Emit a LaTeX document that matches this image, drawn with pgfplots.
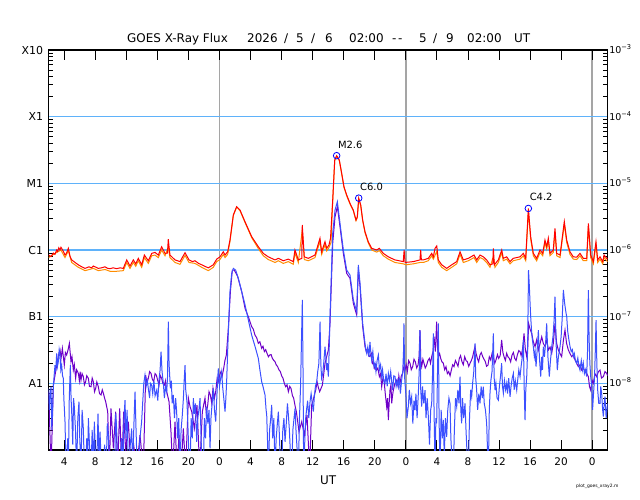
\documentclass[border=0pt]{standalone}
\usepackage{fontspec}
\setmainfont{DejaVu Sans}
\usepackage{pgfplots}
\pgfplotsset{compat=1.18}
\definecolor{gridblue}{RGB}{95,178,250}
\definecolor{goesred}{RGB}{255,0,0}
\definecolor{goesorange}{RGB}{255,140,0}
\definecolor{goesblue}{RGB}{60,80,255}
\definecolor{goespurple}{RGB}{110,0,200}
\definecolor{daygray}{RGB}{165,165,165}
\begin{document}
\begin{tikzpicture}
\useasboundingbox (0,0) rectangle (640bp,500bp);
% ---- axis B: grids, minor ticks, left labels
\begin{axis}[
  ymode=log,
  at={(48.7bp,50bp)}, anchor=south west,
  scale only axis, width=559bp, height=400bp,
  xmin=2, xmax=74, ymin=1e-9, ymax=1e-3,
  axis line style={line width=1.2bp},
  tick style={black, line width=0.8bp},
  xtick={24,48,72}, xticklabels={,,}, major tick length=0pt,
  xmajorgrids, major x grid style={draw=daygray, line width=1.5bp},
  ytick={1e-9,1e-8,1e-7,1e-6,1e-5,1e-4,1e-3},
  yticklabels={,A1,B1,C1,M1,X1,X10},
  ymajorgrids, major y grid style={draw=gridblue, line width=1.1bp},
  minor ytick={2e-9,3e-9,4e-9,5e-9,6e-9,7e-9,8e-9,9e-9,
               2e-8,3e-8,4e-8,5e-8,6e-8,7e-8,8e-8,9e-8,
               2e-7,3e-7,4e-7,5e-7,6e-7,7e-7,8e-7,9e-7,
               2e-6,3e-6,4e-6,5e-6,6e-6,7e-6,8e-6,9e-6,
               2e-5,3e-5,4e-5,5e-5,6e-5,7e-5,8e-5,9e-5,
               2e-4,3e-4,4e-4,5e-4,6e-4,7e-4,8e-4,9e-4},
  minor tick length=4.5bp,
  yticklabel style={anchor=base east, inner sep=0pt, xshift=-5.5bp, yshift=-4bp,
    font=\fontsize{11}{13}\selectfont},
]
\end{axis}
% ---- axis C: right labels
\begin{axis}[
  ymode=log,
  at={(48.7bp,50bp)}, anchor=south west,
  scale only axis, width=559bp, height=400bp,
  xmin=2, xmax=74, ymin=1e-9, ymax=1e-3,
  axis line style={line width=1.2bp},
  tick style={black, line width=0.8bp},
  xtick=\empty,
  ytick={1e-8,1e-7,1e-6,1e-5,1e-4,1e-3},
  yticklabels={10\textsuperscript{−8},10\textsuperscript{−7},10\textsuperscript{−6},10\textsuperscript{−5},10\textsuperscript{−4},10\textsuperscript{−3}},
  yticklabel pos=right,
  major tick length=0pt, minor tick length=0pt,
  yticklabel style={anchor=base west, inner sep=0pt, xshift=1.5bp, yshift=-3.4bp,
    font=\fontsize{9.5}{11}\selectfont},
]
\end{axis}
% ---- axis A: data
\begin{axis}[
  ymode=log,
  at={(48.7bp,50bp)}, anchor=south west,
  scale only axis, width=559bp, height=400bp,
  xmin=2, xmax=74, ymin=1e-9, ymax=1e-3,
  axis line style={line width=1.2bp},
  tick style={black, line width=0.8bp},
  ytick=\empty,
  xtick={4,8,...,72},
  xticklabels={4,8,12,16,20,0,4,8,12,16,20,0,4,8,12,16,20,0},
  major tick length=10bp,
  xticklabel style={anchor=base, inner sep=0pt, yshift=-15.7bp,
    font=\fontsize{10.5}{12}\selectfont},
  xlabel={UT},
  xlabel style={at={(axis description cs:0.5,0)}, anchor=base, inner sep=0pt,
    yshift=-34.5bp, font=\fontsize{12}{14}\selectfont},
  every axis plot/.append style={line width=1bp},
]
% secondary long channel (orange)
\addplot[goesorange] coordinates {
(2.0,7.7e-7) (3.03,9.2e-7) (3.58,1.0e-6) (4.10,7.7e-7) (4.53,9.7e-7) (4.96,6.5e-7)
(5.81,5.5e-7) (6.68,4.9e-7) (7.75,5.3e-7) (8.39,4.9e-7) (9.25,5.1e-7) (9.90,4.8e-7)
(10.76,4.8e-7) (11.61,4.9e-7) (12.05,6.5e-7) (12.47,5.3e-7) (12.90,6.5e-7) (13.21,5.7e-7)
(13.54,6.9e-7) (13.98,5.5e-7) (14.32,7.7e-7) (14.83,6.3e-7) (15.27,8.2e-7) (15.69,8.4e-7)
(16.12,7.7e-7) (16.55,1.0e-6) (16.98,8.2e-7) (17.40,1.1e-6) (17.62,7.7e-7) (18.27,6.5e-7)
(18.91,6.1e-7) (19.56,8.3e-7) (20.07,6.5e-7) (20.84,6.3e-7) (21.71,5.5e-7) (22.56,4.9e-7)
(23.20,5.5e-7) (23.64,6.7e-7) (24.06,7.2e-7) (24.49,8.6e-7) (24.71,7.7e-7) (25.05,8.6e-7)
(25.35,1.35e-6) (25.78,3.3e-6) (26.21,4.4e-6) (26.64,3.9e-6) (27.28,2.6e-6) (28.15,1.53e-6)
(29.00,1.05e-6) (29.64,8.2e-7) (30.28,7.2e-7) (31.15,6.5e-7) (31.57,6.9e-7) (32.22,6.3e-7)
(32.86,6.7e-7) (33.50,6.1e-7) (33.72,9.0e-7) (34.15,6.5e-7) (34.66,2.0e-6) (34.92,7.2e-7)
(35.44,6.9e-7) (36.30,7.7e-7) (36.94,1.35e-6) (37.16,8.6e-7) (37.59,1.2e-6) (37.81,9.7e-7)
(38.10,1.09e-6) (38.36,1.3e-6) (38.58,5.4e-6) (38.84,2.2e-5) (39.09,2.55e-5) (39.43,2.2e-5)
(39.74,1.38e-5) (40.03,8.7e-6) (40.38,6.5e-6) (40.81,4.9e-6) (41.23,3.9e-6) (41.58,2.75e-6)
(41.75,3.05e-6) (41.93,5.8e-6) (42.19,4.6e-6) (42.44,2.75e-6) (42.74,1.82e-6) (43.16,1.28e-6)
(43.60,1.0e-6) (44.25,9.3e-7) (44.58,9.8e-7) (45.10,8.2e-7) (45.74,7.3e-7) (46.60,6.5e-7)
(47.67,6.2e-7) (48.02,6.0e-7) (48.96,6.2e-7) (49.82,6.5e-7) (50.25,6.5e-7) (50.89,6.9e-7)
(51.33,8.2e-7) (51.54,7.3e-7) (51.98,9.5e-7) (52.18,6.5e-7) (52.62,5.5e-7) (53.26,4.9e-7)
(53.91,5.5e-7) (54.55,6.2e-7) (54.98,8.6e-7) (55.40,6.5e-7) (56.05,6.9e-7) (56.78,7.7e-7)
(57.13,6.5e-7) (57.55,7.7e-7) (57.98,7.3e-7) (58.41,6.5e-7) (58.84,5.5e-7) (59.27,8.0e-7)
(59.48,5.5e-7) (59.91,6.5e-7) (60.35,9.2e-7) (60.55,6.9e-7) (60.99,7.3e-7) (61.42,6.2e-7)
(61.84,6.9e-7) (62.70,7.3e-7) (63.13,8.2e-7) (63.44,6.9e-7) (63.78,3.8e-6) (64.08,1.45e-6)
(64.42,8.2e-7) (64.85,6.9e-7) (65.28,9.2e-7) (65.63,8.2e-7) (65.92,1.3e-6) (66.14,1.03e-6)
(66.35,1.38e-6) (66.57,8.2e-7) (66.99,9.2e-7) (67.21,1.9e-6) (67.43,8.2e-7) (67.86,7.7e-7)
(68.41,2.45e-6) (68.72,1.3e-6) (69.14,8.6e-7) (69.57,7.3e-7) (70.01,7.2e-7) (70.43,8.2e-7)
(70.86,6.9e-7) (71.30,6.9e-7) (71.51,2.3e-6) (71.81,7.7e-7) (72.15,6.2e-7) (72.49,1.2e-6)
(72.71,6.5e-7) (73.01,7.3e-7) (73.36,6.2e-7) (73.53,7.7e-7) (73.87,6.9e-7) (74.0,6.7e-7)
};
% primary long channel (red)
\addplot[goesred] coordinates {
(2.0,8.4e-7) (2.3,8.0e-7) (2.6,9.0e-7) (2.8,8.6e-7) (3.03,1.0e-6) (3.15,9.5e-7) (3.3,1.08e-6)
(3.45,1.0e-6) (3.58,1.10e-6) (3.8,1.0e-6) (3.95,9.2e-7)
(4.10,8.4e-7) (4.3,9.0e-7) (4.53,1.06e-6) (4.75,8.0e-7) (4.96,7.1e-7) (5.4,6.5e-7) (5.81,6.0e-7)
(6.25,5.6e-7) (6.68,5.3e-7) (7.2,5.6e-7) (7.5,5.4e-7)
(7.75,5.75e-7) (8.1,5.5e-7) (8.39,5.3e-7) (8.8,5.4e-7) (9.25,5.6e-7) (9.6,5.3e-7) (9.90,5.25e-7)
(10.3,5.4e-7) (10.76,5.25e-7) (11.2,5.4e-7) (11.61,5.3e-7)
(12.05,7.1e-7) (12.47,5.75e-7) (12.90,7.1e-7) (13.21,6.2e-7) (13.54,7.5e-7) (13.98,6.0e-7)
(14.32,8.4e-7) (14.83,6.9e-7) (15.27,8.9e-7) (15.69,9.2e-7) (16.12,8.4e-7) (16.55,1.12e-6)
(16.98,8.9e-7) (17.30,9.0e-7) (17.40,1.45e-6) (17.62,8.4e-7) (18.27,7.1e-7) (18.91,6.7e-7)
(19.56,9.1e-7) (20.07,7.1e-7) (20.50,6.7e-7) (20.84,6.9e-7) (21.3,6.3e-7) (21.71,6.0e-7) (22.1,5.7e-7) (22.56,5.4e-7)
(23.20,6.0e-7) (23.64,7.3e-7) (24.06,7.9e-7) (24.49,9.4e-7) (24.71,8.4e-7) (25.05,9.4e-7)
(25.35,1.41e-6) (25.78,3.35e-6) (26.21,4.47e-6) (26.64,3.98e-6) (27.28,2.66e-6) (28.15,1.58e-6)
(29.00,1.12e-6) (29.64,8.9e-7) (30.28,7.9e-7) (31.15,7.1e-7) (31.57,7.5e-7) (32.22,6.9e-7)
(32.86,7.3e-7) (33.50,6.7e-7) (33.72,1.0e-6) (34.15,7.1e-7) (34.60,7.5e-7) (34.66,2.37e-6)
(34.92,7.9e-7) (35.44,7.5e-7) (36.30,8.4e-7) (36.94,1.5e-6) (37.16,9.4e-7) (37.59,1.33e-6)
(37.81,1.06e-6) (38.10,1.19e-6) (38.30,1.5e-6) (38.58,5.6e-6) (38.84,2.24e-5) (39.09,2.6e-5)
(39.43,2.24e-5) (39.74,1.41e-5) (40.03,8.9e-6) (40.38,6.7e-6) (40.81,5.0e-6) (41.23,3.98e-6)
(41.58,2.82e-6) (41.75,3.16e-6) (41.93,6.0e-6) (42.19,4.73e-6) (42.44,2.82e-6) (42.74,1.88e-6)
(43.16,1.33e-6) (43.60,1.06e-6) (44.25,1.0e-6) (44.58,1.06e-6) (45.10,8.9e-7) (45.74,7.9e-7)
(46.60,7.1e-7) (47.67,6.7e-7) (47.78,1.0e-6) (47.90,6.5e-7) (48.96,6.7e-7) (49.82,7.1e-7)
(49.91,1.0e-6) (50.00,7.1e-7) (50.25,7.1e-7) (50.89,7.5e-7) (51.33,8.9e-7) (51.54,7.9e-7)
(51.76,1.06e-6) (51.98,1.15e-6) (52.18,7.1e-7) (52.62,6.0e-7) (53.26,5.3e-7) (53.91,6.0e-7)
(54.55,6.7e-7) (54.98,9.4e-7) (55.40,7.1e-7) (56.05,7.5e-7) (56.78,8.4e-7) (57.13,7.1e-7)
(57.55,8.4e-7) (57.98,7.9e-7) (58.41,7.1e-7) (58.84,6.0e-7) (59.20,6.2e-7) (59.27,1.06e-6)
(59.40,6.0e-7) (59.91,7.1e-7) (60.35,1.0e-6) (60.55,7.5e-7) (60.99,7.9e-7) (61.42,6.7e-7)
(61.84,7.5e-7) (62.70,7.9e-7) (63.13,8.9e-7) (63.44,7.5e-7) (63.78,4.2e-6) (64.08,1.58e-6)
(64.42,8.9e-7) (64.85,7.5e-7) (65.28,1.0e-6) (65.63,8.9e-7) (65.92,1.41e-6) (66.14,1.12e-6)
(66.35,1.5e-6) (66.57,8.9e-7) (66.99,1.0e-6) (67.21,2.1e-6) (67.43,8.9e-7) (67.86,8.4e-7)
(68.41,2.66e-6) (68.72,1.41e-6) (69.14,9.4e-7) (69.57,7.9e-7) (70.01,7.8e-7) (70.43,8.9e-7)
(70.86,7.5e-7) (71.30,7.5e-7) (71.51,2.5e-6) (71.81,8.4e-7) (72.15,6.7e-7) (72.49,1.33e-6)
(72.71,7.1e-7) (73.01,7.9e-7) (73.36,6.7e-7) (73.53,8.4e-7) (73.87,7.5e-7) (74.0,7.3e-7)
};
% secondary short channel (purple)
\addplot[goespurple] coordinates {
(2.0,7.5e-9) (2.3,5e-10) (2.6,9.4e-9) (3.03,1.88e-8) (3.25,2.6e-8) (3.46,3.16e-8) (3.6,2.4e-8) (3.76,3.35e-8)
(4.01,1.88e-8) (4.15,2.9e-8) (4.31,2.66e-8) (4.5,3.2e-8) (4.66,3.98e-8) (4.87,2.11e-8) (5.0,2.5e-8)
(5.17,1.58e-8) (5.3,1.9e-8) (5.47,1.19e-8) (5.6,1.6e-8) (5.82,1.41e-8) (5.95,1.1e-8) (6.05,1.5e-8)
(6.16,1.12e-8) (6.3,1.4e-8) (6.46,1.26e-8) (6.6,9.5e-9) (6.76,1.06e-8) (6.9,1.3e-8) (7.11,1.19e-8)
(7.25,9e-9) (7.45,8.9e-9) (7.6,1.2e-8) (7.75,1.06e-8) (7.9,7.5e-9) (8.05,8.4e-9) (8.2,1.05e-8)
(8.39,8.9e-9) (8.55,7e-9) (8.74,6.7e-9) (8.9,8e-9) (9.04,7.1e-9) (9.2,6e-9) (9.34,5.3e-9)
(9.60,3.76e-9) (9.81,5e-10) (10.02,4.2e-9) (10.33,1.06e-9) (10.63,3.76e-9) (10.88,5e-10)
(11.14,4.2e-9) (11.40,5e-10) (11.66,3.76e-9) (11.91,9.4e-10) (12.26,2.66e-9) (12.60,5e-10)
(12.90,1.33e-9) (13.33,5e-10) (13.76,1.68e-9) (14.19,5e-10) (14.49,1.33e-8) (14.65,1.0e-8)
(14.83,1.19e-8) (15.0,1.5e-8) (15.18,1.41e-8) (15.35,1.15e-8) (15.52,1.06e-8) (15.7,1.4e-8)
(15.86,1.33e-8) (16.05,1.1e-8) (16.21,9.4e-9) (16.38,1.3e-8) (16.55,1.19e-8) (16.7,1.0e-8)
(16.89,9.4e-9) (17.05,1.1e-8)
(17.20,7.5e-9) (17.50,5.3e-9) (17.75,1.88e-9) (17.97,5e-10) (18.27,2.66e-9) (18.53,5e-10)
(18.78,1.68e-9) (19.04,5e-10) (19.34,2.1e-9) (19.64,5e-10) (19.99,6.0e-9) (20.2,4.5e-9) (20.42,3.76e-9)
(20.76,2.1e-9) (21.10,4.7e-9) (21.45,5e-10) (21.79,3.76e-9) (22.13,6.0e-9) (22.3,3.5e-9) (22.48,4.73e-9)
(22.65,7.5e-9) (22.82,6.7e-9) (23.0,5e-9) (23.16,8.4e-9) (23.35,6e-9) (23.51,7.5e-9) (23.7,1.2e-8) (23.85,1.06e-8)
(24.0,1.3e-8) (24.19,1.5e-8) (24.35,1.3e-8) (24.54,1.68e-8) (24.7,2.2e-8)
(24.88,2.66e-8) (25.14,6.7e-8) (25.40,2.37e-7) (25.65,5.0e-7) (25.91,5.0e-7) (26.34,3.98e-7)
(26.86,2.37e-7) (27.29,1.33e-7) (27.71,1.0e-7) (28.14,7.1e-8) (28.35,6.5e-8) (28.57,5.3e-8)
(28.8,4.8e-8) (29.00,3.98e-8) (29.2,4.2e-8) (29.43,3.35e-8) (29.6,3.6e-8) (29.78,2.99e-8)
(29.95,3.2e-8) (30.12,2.82e-8) (30.3,2.5e-8) (30.46,2.66e-8) (30.65,2.7e-8) (30.81,2.37e-8)
(31.0,2.2e-8) (31.15,2.11e-8) (31.3,1.9e-8) (31.49,1.78e-8) (31.65,1.6e-8) (31.84,1.5e-8)
(32.0,1.3e-8) (32.18,1.19e-8) (32.35,1.0e-8) (32.52,8.9e-9) (32.7,9.5e-9) (32.87,7.5e-9)
(33.05,9e-9) (33.21,8.4e-9) (33.4,6.5e-9) (33.55,6.0e-9) (33.75,4.5e-9) (33.90,3.76e-9)
(34.24,1.88e-9) (34.59,2.66e-9) (34.93,1.68e-9) (35.27,3.35e-9)
(35.61,5e-10) (35.87,4.73e-9) (36.05,5.5e-9) (36.22,6.7e-9) (36.4,8e-9) (36.56,1.06e-8) (36.75,8.5e-9) (36.90,7.5e-9) (37.25,9.4e-9)
(37.59,2.0e-8) (38.02,3.16e-8) (38.23,7.9e-8) (38.58,1.26e-6) (38.88,3.16e-6) (39.18,4.47e-6)
(39.52,2.24e-6) (39.95,8.9e-7) (40.38,4.47e-7) (40.81,3.76e-7) (41.24,1.58e-7) (41.67,1.06e-7)
(41.88,5.0e-7) (42.10,2.82e-7) (42.44,7.1e-8)
(42.74,3.55e-8) (42.9,3.0e-8) (43.05,3.3e-8) (43.2,2.6e-8) (43.38,2.51e-8) (43.55,2.8e-8)
(43.7,2.0e-8) (43.81,2.11e-8) (43.95,1.7e-8) (44.1,1.9e-8) (44.24,1.58e-8) (44.4,1.7e-8)
(44.59,1.26e-8) (44.75,1.4e-8) (44.89,8.9e-9) (45.05,1.2e-8) (45.19,1.12e-8) (45.35,7e-9)
(45.53,4.47e-9) (45.65,6e-9) (45.75,2.82e-9) (45.85,5e-9) (45.96,7.9e-9) (46.08,9.5e-9)
(46.18,5.0e-9) (46.28,6.5e-9) (46.39,7.9e-9) (46.6,1.0e-8) (46.82,1.12e-8) (47.0,9e-9)
(47.1,1.3e-8) (47.25,1.0e-8) (47.42,1.3e-8) (47.59,1.41e-8) (47.75,1.8e-8) (47.89,1.58e-8)
(48.05,1.9e-8) (48.19,1.5e-8) (48.36,2.2e-8) (48.54,2.0e-8) (48.7,1.6e-8) (48.88,1.78e-8)
(49.05,2.3e-8) (49.22,2.11e-8) (49.4,1.7e-8) (49.57,1.88e-8) (49.7,2.5e-8) (49.82,6.3e-8)
(49.93,2.2e-8) (50.04,1.78e-8) (50.2,2.3e-8) (50.34,2.0e-8) (50.5,1.7e-8) (50.68,1.88e-8)
(50.85,2.2e-8) (51.03,2.37e-8) (51.18,2.0e-8) (51.33,2.51e-8) (51.5,3e-8) (51.63,5.0e-8)
(51.8,3e-8) (51.97,8.4e-8) (52.08,3.5e-8) (52.19,2.51e-8) (52.35,2.8e-8) (52.49,2.37e-8)
(52.65,2.1e-8) (52.83,2.0e-8) (53.0,1.6e-8) (53.17,1.78e-8) (53.35,1.4e-8) (53.52,1.5e-8)
(53.7,1.3e-8) (53.86,1.58e-8) (54.03,1.9e-8) (54.20,1.78e-8) (54.38,2.2e-8) (54.55,2.0e-8)
(54.72,1.8e-8) (54.89,2.37e-8) (55.05,2.6e-8) (55.23,2.11e-8) (55.4,1.9e-8) (55.58,2.51e-8)
(55.75,2.2e-8) (55.92,2.11e-8) (56.1,1.8e-8) (56.27,2.0e-8) (56.44,2.2e-8) (56.61,2.51e-8)
(56.75,3e-8) (56.91,3.55e-8) (57.05,2.8e-8) (57.21,2.37e-8) (57.38,2.1e-8) (57.55,2.66e-8)
(57.72,2.9e-8) (57.90,2.51e-8) (58.07,2.3e-8) (58.24,2.11e-8) (58.4,1.8e-8) (58.58,1.88e-8)
(58.75,2.5e-8) (58.93,2.24e-8) (59.1,2.8e-8) (59.27,2.51e-8) (59.45,2.0e-8) (59.61,2.24e-8)
(59.8,2.7e-8) (59.96,2.37e-8) (60.15,2.6e-8) (60.34,4.47e-8) (60.5,2.9e-8) (60.65,2.51e-8)
(60.82,2.2e-8) (60.99,2.82e-8) (61.15,2.5e-8) (61.33,2.37e-8) (61.5,2.1e-8) (61.68,2.66e-8)
(61.85,2.9e-8) (62.02,2.37e-8) (62.2,2.2e-8) (62.36,2.66e-8) (62.55,3.1e-8) (62.71,2.99e-8)
(62.85,2.6e-8) (63.01,3.16e-8) (63.12,4e-8) (63.22,5.6e-8) (63.4,3.2e-8) (63.57,2.51e-8)
(63.7,3.5e-8) (63.82,7.9e-8) (64.0,6.5e-8) (64.21,5.6e-8) (64.42,4.2e-8) (64.64,3.55e-8)
(64.85,4.5e-8) (65.07,3.16e-8) (65.3,4e-8) (65.50,5.0e-8) (65.7,4e-8) (65.93,3.55e-8)
(66.15,4.5e-8) (66.36,3.16e-8) (66.58,3.5e-8) (66.79,2.82e-8) (67.0,4e-8) (67.21,7.9e-8)
(67.42,4e-8) (67.64,3.16e-8) (67.85,2.8e-8) (68.07,2.51e-8) (68.3,4.5e-8) (68.50,6.3e-8)
(68.7,4e-8) (68.93,3.16e-8) (69.15,2.8e-8) (69.36,2.51e-8) (69.58,2.7e-8) (69.79,2.24e-8)
(70.0,2.0e-8) (70.22,1.78e-8) (70.45,1.9e-8) (70.65,1.58e-8) (70.85,1.7e-8) (71.08,1.5e-8)
(71.3,1.4e-8) (71.51,1.26e-8) (71.65,9e-9) (71.81,7.9e-9) (72.0,1.1e-8) (72.15,1.0e-8)
(72.35,1.4e-8) (72.58,1.26e-8) (72.8,1.5e-8) (73.01,1.58e-8) (73.2,1.2e-8) (73.44,1.26e-8)
(73.65,1.5e-8) (73.87,1.41e-8) (74.0,1.3e-8)
};
% primary short channel (blue)
\addplot[goesblue] coordinates {
(2.0,8.4e-9) (2.1,4e-9) (2.17,6e-9) (2.3,8.9e-9) (2.4,2e-9) (2.47,3.35e-9) (2.6,8.9e-9)
(2.7,1.3e-8) (2.81,1.88e-8) (2.9,1.5e-8) (3.03,2.82e-8) (3.13,1.8e-8) (3.24,2.11e-8)
(3.35,3.2e-8) (3.46,2.66e-8) (3.56,1.6e-8) (3.67,1.88e-8) (3.78,1.3e-8) (3.88,1.19e-8)
(3.95,6e-9) (4.10,2.66e-9) (4.2,8e-10) (4.31,5e-10) (4.45,1.5e-9) (4.53,5e-10) (4.65,6e-9)
(4.79,1.88e-8) (4.88,6e-9) (4.96,3.76e-9) (5.1,1.2e-9) (5.2,6e-9) (5.30,4.47e-9) (5.45,2e-9)
(5.60,5e-10) (5.75,3e-9) (5.90,5.3e-9) (6.0,1.5e-9) (6.16,5e-10) (6.3,4e-9) (6.46,2.1e-9)
(6.6,5e-10) (6.76,5e-10) (6.9,1.5e-9) (7.0,5e-10) (7.11,3.0e-9) (7.25,1.2e-9) (7.45,5e-10)
(7.6,2e-9) (7.75,5e-10) (7.88,2.66e-9) (8.0,1e-9) (8.18,5e-10) (8.35,3.5e-9) (8.5,5e-10)
(8.61,1.88e-9) (8.8,5e-10) (9.04,5e-10) (9.2,1.2e-9) (9.4,5e-10) (9.55,2.5e-9) (9.68,1.68e-9)
(9.85,5e-10) (10.11,5e-10) (10.3,1e-9) (10.5,5e-10) (10.62,3.5e-9) (10.75,2.1e-9) (10.9,5e-10)
(11.18,5e-10) (11.4,1.5e-9) (11.55,5e-10) (11.7,3e-9) (11.83,5.6e-9) (11.95,1.5e-9) (12.1,4e-9)
(12.26,5e-10) (12.45,1e-9) (12.69,2.1e-9) (12.8,5e-10) (13.0,3e-9) (13.12,7.5e-9) (13.25,2e-9)
(13.4,5e-10) (13.55,5e-10) (13.75,1.5e-9) (13.97,2.66e-9) (14.1,5e-9) (14.25,1e-8)
(14.40,1.33e-8) (14.55,9e-9) (14.7,1.1e-8) (14.83,8.4e-9) (15.0,6e-9) (15.1,1e-8)
(15.26,9.4e-9) (15.4,7e-9) (15.55,1.1e-8) (15.7,6.5e-9) (15.91,7.9e-9) (16.05,5.5e-9)
(16.2,1.1e-8) (16.35,1.6e-8) (16.47,2.99e-8) (16.6,1.5e-8) (16.77,1.0e-8) (16.9,6e-9)
(17.05,9e-9) (17.20,7.5e-9) (17.3,1.2e-8) (17.41,8.4e-8) (17.5,2e-8) (17.67,8.4e-9)
(17.8,1.1e-8) (17.9,5e-9) (18.05,6.7e-9) (18.2,3e-9) (18.35,6e-9) (18.48,3.76e-9) (18.6,1.5e-9)
(18.75,3e-9) (18.91,5e-10) (19.05,2e-9) (19.21,3.35e-9) (19.35,6e-9) (19.45,1.1e-8)
(19.56,1.88e-8) (19.65,8e-9) (19.81,5.3e-9) (19.95,2e-9) (20.10,6e-10) (20.20,5e-10)
(20.35,3e-9) (20.5,1.5e-9) (20.63,6.0e-9) (20.75,3.5e-9) (20.9,5e-9) (21.06,1.33e-9)
(21.2,3e-9) (21.35,4e-9) (21.49,6.0e-9) (21.6,2e-9) (21.75,5e-10) (21.92,5e-10) (22.05,3e-9)
(22.2,1.5e-9) (22.35,4.47e-9) (22.5,2.5e-9) (22.65,4e-9) (22.78,1.06e-9) (22.9,3e-9)
(23.05,5e-9) (23.21,8.4e-9) (23.35,4e-9) (23.51,2.66e-9) (23.65,6e-9) (23.75,1.1e-8)
(23.85,1.68e-8) (24.0,9e-9) (24.15,1.2e-8) (24.28,1.5e-8) (24.4,9e-9) (24.55,6e-9)
(24.71,3.76e-9) (24.82,6e-9) (24.92,1.06e-8) (25.05,3e-8)
(25.14,5.96e-8) (25.35,2.37e-7) (25.57,4.47e-7) (25.78,5.3e-7) (26.08,5.0e-7) (26.43,3.76e-7)
(27.29,1.5e-7) (28.14,5.3e-8) (28.6,3.5e-8) (29.00,2.37e-8) (29.2,1.6e-8) (29.43,1.06e-8)
(29.6,9e-9) (29.86,6.7e-9) (30.0,4e-9) (30.08,3.35e-9) (30.2,1.2e-9) (30.29,5e-10)
(30.45,2e-9) (30.6,3e-9) (30.72,4.73e-9) (30.85,1.5e-9) (31.0,3e-9) (31.15,5e-10)
(31.3,1.5e-9) (31.45,2.5e-9) (31.58,3.76e-9) (31.7,1.8e-9) (31.85,6e-10) (32.01,5e-10)
(32.15,2e-9) (32.3,3e-9) (32.44,1.33e-9) (32.6,2.5e-9) (32.75,5e-9) (32.87,3.35e-9)
(33.0,2e-9) (33.15,8e-10) (33.30,5e-10) (33.45,2e-9) (33.6,3e-9) (33.73,4.2e-9) (33.85,2e-9)
(34.0,1e-9) (34.16,5e-10) (34.3,3e-9) (34.45,1e-8) (34.55,4e-8) (34.67,1.78e-7) (34.75,2e-8)
(34.84,5e-10) (35.0,1.5e-9) (35.1,3e-9) (35.23,4.2e-9) (35.35,5.5e-9) (35.5,3e-9)
(35.66,5.3e-9) (35.8,7e-9) (35.95,5e-9) (36.09,3.76e-9) (36.2,6e-9) (36.35,9e-9)
(36.52,1.06e-8) (36.65,1.5e-8) (36.8,2e-8) (36.95,8.4e-8) (37.05,2e-8) (37.15,1.2e-8)
(37.30,1.41e-8) (37.45,2.2e-8) (37.59,3.55e-8) (37.7,2.5e-8) (37.80,1.58e-8) (37.9,2e-8)
(38.02,1.26e-8) (38.12,3e-8) (38.23,1.0e-7)
(38.58,1.78e-6) (38.88,3.98e-6) (39.18,5.3e-6) (39.52,2.51e-6) (39.95,1.0e-6) (40.38,5.0e-7)
(40.81,4.2e-7) (41.24,1.78e-7) (41.67,1.19e-7) (41.88,5.96e-7) (42.10,3.16e-7) (42.44,7.9e-8)
(42.74,3.98e-8) (42.85,3.2e-8) (42.96,2.82e-8) (43.1,3.5e-8) (43.25,2.5e-8) (43.38,4.2e-8)
(43.5,2.8e-8) (43.60,2.24e-8) (43.75,3e-8) (43.9,1.8e-8) (44.03,2.0e-8) (44.15,1.5e-8)
(44.3,2.2e-8) (44.46,2.66e-8) (44.6,1.6e-8) (44.75,1.9e-8) (44.89,1.26e-8) (45.0,1.6e-8)
(45.15,1.1e-8) (45.32,1.0e-8) (45.45,1.4e-8) (45.6,9e-9) (45.75,1.41e-8) (45.9,1.1e-8)
(46.05,1.5e-8) (46.18,1.06e-8) (46.3,8e-9) (46.45,1.3e-8) (46.61,1.26e-8) (46.75,9e-9)
(46.9,1.1e-8) (47.03,8.9e-9) (47.15,1.2e-8) (47.3,7e-9) (47.46,1.12e-8) (47.6,1.5e-8)
(47.7,3e-8) (47.76,7.9e-8) (47.85,1.2e-8)
(48.02,6.3e-9) (48.15,3e-9) (48.32,4.47e-9) (48.45,8e-9) (48.6,5e-9) (48.75,6.3e-9)
(48.9,2.5e-9) (49.05,5.5e-9) (49.18,3.98e-9) (49.3,7e-9) (49.45,3e-9) (49.61,7.1e-9)
(49.72,1.5e-8) (49.82,6.3e-8) (49.92,8e-9) (50.04,4.47e-9) (50.15,9e-9) (50.3,5e-9)
(50.47,7.9e-9) (50.6,3e-9) (50.75,6e-9) (50.90,3.16e-9) (51.05,1.2e-9) (51.2,4e-9)
(51.33,5.0e-9) (51.45,1.5e-8) (51.54,5.6e-8) (51.62,5e-9) (51.76,5e-10) (51.87,3e-9)
(51.97,2.51e-9) (52.08,1.5e-8) (52.19,7.9e-8) (52.28,3e-9) (52.40,5e-10) (52.55,4e-9)
(52.7,1.5e-9) (52.83,2.82e-9) (52.95,8e-10) (53.1,3e-9) (53.26,1.58e-9) (53.4,4e-9)
(53.55,6e-9) (53.69,5.0e-9) (53.8,1.5e-9) (53.95,7e-10) (54.12,5e-10) (54.25,2e-9)
(54.4,6e-9) (54.55,4.47e-9) (54.7,8e-9) (54.85,5e-9) (54.98,1.26e-8) (55.08,4e-9)
(55.19,2.51e-9) (55.3,6e-9) (55.45,3e-9) (55.62,5.0e-9) (55.75,2e-9) (55.9,8e-10)
(56.05,5e-10) (56.2,3e-9) (56.35,8e-9) (56.48,6.3e-9) (56.6,1e-8) (56.75,1.5e-8)
(56.91,3.98e-8) (57.0,1.2e-8) (57.12,7.9e-9) (57.25,4e-9) (57.4,7e-9) (57.55,5.0e-9)
(57.7,9e-9) (57.85,6e-9) (57.98,8.9e-9) (58.1,5e-9) (58.25,4e-9) (58.41,2.51e-9) (58.52,1e-9)
(58.63,5e-10) (58.75,4e-9) (58.84,7.1e-9) (58.95,1.1e-8) (59.1,1.5e-8) (59.27,5.6e-8)
(59.38,1.2e-8) (59.49,7.9e-9) (59.6,1e-8) (59.75,6e-9) (59.92,5.6e-9) (60.05,9e-9)
(60.2,1.3e-8) (60.34,2.0e-8) (60.45,9e-9) (60.56,7.1e-9) (60.7,1.1e-8) (60.85,8e-9)
(60.99,1.0e-8) (61.1,7e-9) (61.25,1.2e-8) (61.42,6.3e-9) (61.55,9e-9) (61.7,1.2e-8)
(61.85,1.41e-8) (61.95,8e-9) (62.1,1.1e-8) (62.28,7.9e-9) (62.4,1.1e-8) (62.55,1.6e-8)
(62.71,1.26e-8) (62.85,1.8e-8) (63.0,2.5e-8) (63.14,4.47e-8) (63.25,8e-9) (63.35,2.82e-9)
(63.45,8e-9) (63.57,1.26e-8) (63.68,3e-8) (63.80,5.0e-7) (63.9,3e-7) (64.0,1.6e-7)
(64.08,1.0e-7) (64.2,6e-8) (64.3,4.5e-8) (64.42,3.55e-8) (64.55,2.5e-8) (64.65,3e-8)
(64.77,1.78e-8) (64.9,3e-8) (65.07,6.3e-8) (65.2,2.5e-8) (65.37,1.26e-8) (65.5,2.5e-8)
(65.6,1.6e-8) (65.71,3.55e-8) (65.85,2.5e-8) (66.0,4e-8) (66.14,7.9e-8) (66.3,2.5e-8)
(66.48,1.26e-8) (66.6,2e-8) (66.79,3.55e-8) (66.95,5e-8) (67.1,9e-8) (67.21,2.0e-7)
(67.35,4e-8) (67.51,1.58e-8) (67.65,2.5e-8) (67.86,3.55e-8) (68.0,5e-8) (68.15,1e-7)
(68.29,2.51e-7) (68.45,1.6e-7) (68.6,1.2e-7) (68.72,1.0e-7) (68.85,6e-8) (69.0,4.5e-8)
(69.15,3.55e-8) (69.3,3e-8) (69.45,3.2e-8) (69.58,2.51e-8) (69.7,2.8e-8) (69.85,2.2e-8)
(70.01,2.0e-8) (70.15,2.4e-8) (70.3,1.8e-8) (70.43,1.58e-8) (70.6,2.2e-8) (70.75,1.6e-8)
(70.86,2.0e-8) (71.0,1.4e-8) (71.15,1.6e-8) (71.29,1.26e-8) (71.4,3e-8) (71.51,2.51e-7)
(71.6,5e-8) (71.7,2e-8) (71.81,1.26e-8) (71.95,9e-9) (72.05,4e-9) (72.15,6.3e-9) (72.3,1.2e-8)
(72.4,3e-8) (72.50,8.9e-8) (72.6,2e-8) (72.71,7.9e-9) (72.85,5e-9) (73.01,5.0e-9) (73.1,9e-9)
(73.22,7.1e-9) (73.35,4e-9) (73.44,3.16e-9) (73.55,5e-9) (73.65,6.3e-9) (73.8,3e-9)
(73.95,4.47e-9) (74.0,5e-9)
};
% flare peaks
\addplot[only marks, mark=o, mark size=3.3bp, mark options={draw=blue, line width=0.8bp},
  point meta=explicit symbolic, nodes near coords,
  nodes near coords style={anchor=base west, inner sep=0pt, xshift=1bp, yshift=7.5bp,
    text=black, font=\fontsize{10}{12}\selectfont}]
  coordinates {(39.09,2.6e-5)[M2.6] (41.93,6.0e-6)[C6.0] (63.78,4.2e-6)[C4.2]};
\end{axis}
% title, placed piece by piece
\begin{scope}[every node/.style={anchor=base west, inner sep=0pt, font=\fontsize{12}{14}\selectfont}]
\node at (127bp,457.3bp) {GOES X-Ray Flux};
\node at (247bp,457.3bp) {2026};
\node at (284bp,457.3bp) {/};
\node at (296bp,457.3bp) {5};
\node at (311bp,457.3bp) {/};
\node at (325bp,457.3bp) {6};
\node at (349bp,457.3bp) {02:00};
\node at (392bp,457.3bp) {-\hspace{1.5bp}-};
\node at (419bp,457.3bp) {5};
\node at (433bp,457.3bp) {/};
\node at (446bp,457.3bp) {9};
\node at (467bp,457.3bp) {02:00};
\node at (514bp,457.3bp) {UT};
\end{scope}
\node[anchor=base west, inner sep=0pt] at (576bp,13bp) {\fontsize{4.5}{5}\selectfont plot\_goes\_xray2.m};
\end{tikzpicture}
\end{document}
